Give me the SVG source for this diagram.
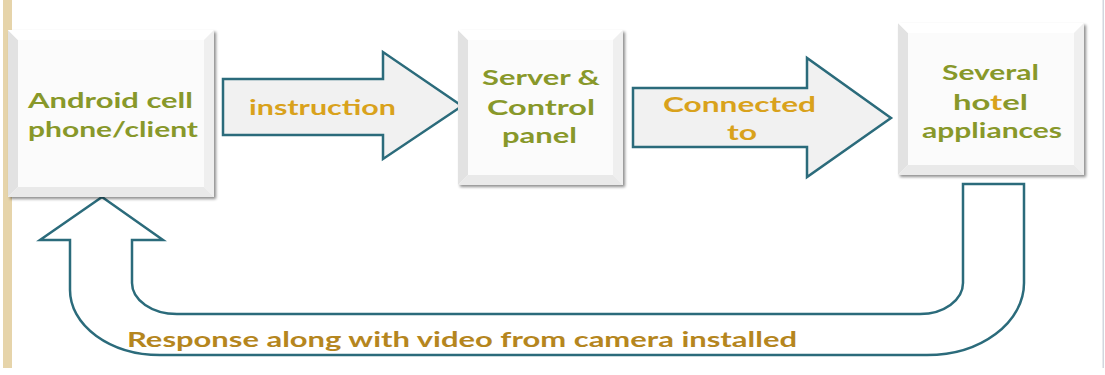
<svg xmlns="http://www.w3.org/2000/svg" width="1105" height="375" viewBox="0 0 1105 375">
<style>
.box{fill:#fbfbfb}
.bl{fill:#e2e2e2}
.bt{fill:#ffffff}
.br{fill:#efefef}
.bb{fill:#e9e9e9}
.ntext{font-family:Lato,"Liberation Sans",sans-serif;font-weight:bold;font-size:21px;fill:#88982a;text-anchor:start}
.atext{font-family:Lato,"Liberation Sans",sans-serif;font-weight:bold;font-size:21px;fill:#d9a21c}
.rtext{font-family:Lato,"Liberation Sans",sans-serif;font-weight:bold;font-size:21px;fill:#b5861e}
.arrow{fill:#f1f1f1;stroke:#2b6b7b;stroke-width:2.5;stroke-linejoin:miter}
.uarrow{fill:#ffffff;stroke:#2b6b7b;stroke-width:2.5;stroke-linejoin:miter}
</style>
<defs>
<filter id="sh" x="-10%" y="-10%" width="125%" height="125%">
<feGaussianBlur in="SourceAlpha" stdDeviation="1.5"/>
<feOffset dx="2" dy="2" result="b"/>
<feComponentTransfer><feFuncA type="linear" slope="0.45"/></feComponentTransfer>
<feMerge><feMergeNode/><feMergeNode in="SourceGraphic"/></feMerge>
</filter>
</defs>
<rect x="0" y="0" width="1105" height="375" fill="#ffffff"/>
<rect x="3" y="0" width="9" height="368" fill="#e6d4aa"/>
<rect x="1102.5" y="0" width="1.5" height="368" fill="#d2d6de"/>

<g id="connectors">
<path class="uarrow" d="M963,184 L1024,184 L1024,283 A97,72 0 0 1 927,355 L160,355 A90,65 0 0 1 70,290 L70,240 L40,240 L102,197 L163,240 L132,240 L132,283 A45,31 0 0 0 177,314 L920,314 A43,31 0 0 0 963,283 Z"/>
<path class="arrow" d="M223,79 L383,79 L383,52 L462,106 L383,159 L383,135 L223,135 Z"/>
<path class="arrow" d="M633,88 L807,88 L807,58 L891,118 L807,177 L807,147 L633,147 Z"/>
<text class="atext" x="249" y="115" textLength="147" lengthAdjust="spacingAndGlyphs">instruction</text>
<text class="atext" x="663" y="112" textLength="153" lengthAdjust="spacingAndGlyphs">Connected</text>
<text class="atext" x="727" y="140" textLength="30" lengthAdjust="spacingAndGlyphs">to</text>
<text class="rtext" x="127" y="347" textLength="670" lengthAdjust="spacingAndGlyphs">Response along with video from camera installed</text>
</g>

<g id="node-android">
<g filter="url(#sh)">
<rect class="box" x="8" y="30" width="206" height="167"/>
</g>
<polygon class="bl" points="8,30 18,40 18,187 8,197"/>
<polygon class="bt" points="8,30 214,30 204,40 18,40"/>
<polygon class="br" points="214,30 214,197 204,187 204,40"/>
<polygon class="bb" points="8,197 214,197 204,187 18,187"/>
<text class="ntext" x="28" y="108" textLength="165" lengthAdjust="spacingAndGlyphs">Android cell</text>
<text class="ntext" x="28" y="137" textLength="170" lengthAdjust="spacingAndGlyphs">phone/client</text>
</g>

<g id="node-server">
<g filter="url(#sh)">
<rect class="box" x="458" y="30" width="165" height="155"/>
</g>
<polygon class="bl" points="458,30 468,40 468,175 458,185"/>
<polygon class="bt" points="458,30 623,30 613,40 468,40"/>
<polygon class="br" points="623,30 623,185 613,175 613,40"/>
<polygon class="bb" points="458,185 623,185 613,175 468,175"/>
<text class="ntext" x="482" y="85" textLength="118" lengthAdjust="spacingAndGlyphs">Server &amp;</text>
<text class="ntext" x="487" y="115" textLength="108" lengthAdjust="spacingAndGlyphs">Control</text>
<text class="ntext" x="502" y="143" textLength="75" lengthAdjust="spacingAndGlyphs">panel</text>
</g>

<g id="node-appliances">
<g filter="url(#sh)">
<rect class="box" x="898" y="23" width="186" height="152"/>
</g>
<polygon class="bl" points="898,23 908,33 908,165 898,175"/>
<polygon class="bt" points="898,23 1084,23 1074,33 908,33"/>
<polygon class="br" points="1084,23 1084,175 1074,165 1074,33"/>
<polygon class="bb" points="898,175 1084,175 1074,165 908,165"/>
<text class="ntext" x="942" y="80" textLength="97" lengthAdjust="spacingAndGlyphs">Several</text>
<text class="ntext" x="953" y="110" textLength="75" lengthAdjust="spacingAndGlyphs">ho<tspan fill="#d9a21c">t</tspan>el</text>
<text class="ntext" x="922" y="138" textLength="140" lengthAdjust="spacingAndGlyphs">appliances</text>
</g>
</svg>
